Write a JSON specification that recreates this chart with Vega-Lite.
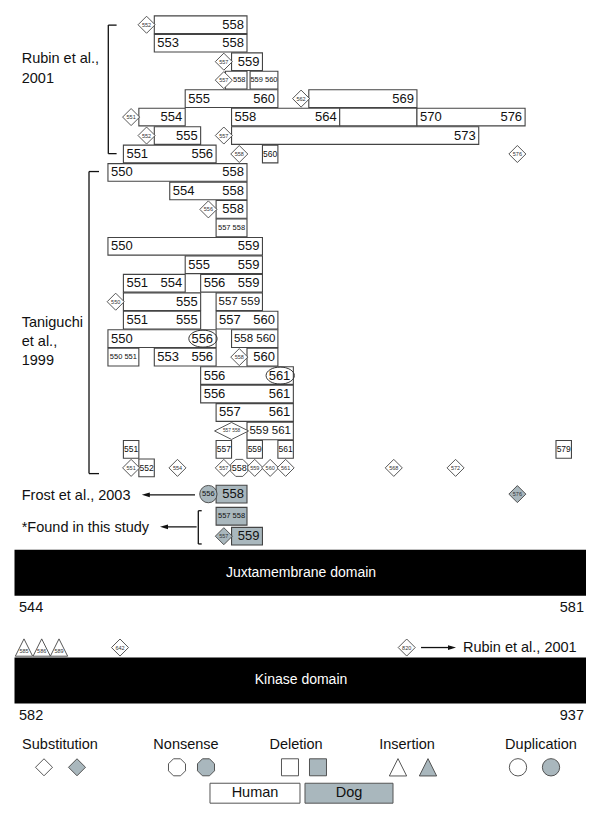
{
  "$schema": "https://vega.github.io/schema/vega-lite/v6.json",
  "width": 600,
  "height": 815,
  "padding": 0,
  "autosize": {"type": "none"},
  "background": "white",
  "config": {"view": {"stroke": null}, "font": "Liberation Sans", "text": {"font": "Liberation Sans", "color": "#111"}},
  "datasets": {
    "dom": [
      {"from": 543.452, "to": 580.442, "r1": 28.432, "r2": 30.919, "name": "Juxtamembrane domain", "mid": 561.995, "rm": 29.676},
      {"from": 543.452, "to": 580.442, "r1": 34.27, "r2": 36.757, "name": "Kinase domain", "mid": 561.995, "rm": 35.514}
    ],
    "legbox": [
      {"from": 556.105, "to": 561.93, "r1": 41.08, "r2": 42.16, "sp": "Human"},
      {"from": 562.254, "to": 567.95, "r1": 41.08, "r2": 42.16, "sp": "Dog"}
    ],
    "seg": [
      {"x1": 549.523, "x2": 549.523, "y1": 0.02, "y2": 6.98},
      {"x1": 549.523, "x2": 550.06, "y1": 0.02, "y2": 0.02},
      {"x1": 549.523, "x2": 550.06, "y1": 6.98, "y2": 6.98},
      {"x1": 548.274, "x2": 548.274, "y1": 7.95, "y2": 24.31},
      {"x1": 548.274, "x2": 548.921, "y1": 7.95, "y2": 7.95},
      {"x1": 548.274, "x2": 548.921, "y1": 24.31, "y2": 24.31},
      {"x1": 555.348, "x2": 555.348, "y1": 26.32, "y2": 28.12},
      {"x1": 555.348, "x2": 555.568, "y1": 26.32, "y2": 26.32},
      {"x1": 555.348, "x2": 555.568, "y1": 28.12, "y2": 28.12},
      {"x1": 551.95, "x2": 555.134, "y1": 25.46, "y2": 25.46},
      {"x1": 553.128, "x2": 555.24, "y1": 27.19, "y2": 27.19},
      {"x1": 569.765, "x2": 571.77, "y1": 33.73, "y2": 33.73}
    ],
    "heads": [
      {"x": 551.95, "row": 25.46, "dir": "left"},
      {"x": 553.128, "row": 27.19, "dir": "left"},
      {"x": 571.77, "row": 33.73, "dir": "right"}
    ],
    "boxes": [
      {"row": 0, "from": 552.5, "to": 558.5, "sp": "Human", "e": "558"},
      {"row": 1, "from": 552.5, "to": 558.5, "sp": "Human", "s": "553", "e": "558"},
      {"row": 2, "from": 557.5, "to": 559.5, "sp": "Human", "e": "559"},
      {"row": 3, "from": 557.1, "to": 558.5, "sp": "Human", "sm": "558", "c": 558},
      {"row": 3, "from": 558.7, "to": 560.5, "sp": "Human", "sm": "559 560", "c": 559.6},
      {"row": 4, "from": 554.5, "to": 560.5, "sp": "Human", "s": "555", "e": "560"},
      {"row": 4, "from": 562.5, "to": 569.5, "sp": "Human", "e": "569"},
      {"row": 5, "from": 551.5, "to": 554.5, "sp": "Human", "e": "554"},
      {"row": 5, "from": 557.5, "to": 564.5, "sp": "Human", "s": "558", "e": "564"},
      {"row": 5, "from": 564.5, "to": 569.5, "sp": "Human"},
      {"row": 5, "from": 569.5, "to": 576.5, "sp": "Human", "s": "570", "e": "576"},
      {"row": 6, "from": 552.5, "to": 555.5, "sp": "Human", "e": "555"},
      {"row": 6, "from": 557.5, "to": 573.5, "sp": "Human", "e": "573"},
      {"row": 7, "from": 550.5, "to": 556.5, "sp": "Human", "s": "551", "e": "556"},
      {"row": 7, "from": 559.5, "to": 560.5, "sp": "Human", "sm1": "560", "c": 560},
      {"row": 8, "from": 549.5, "to": 558.5, "sp": "Human", "s": "550", "e": "558"},
      {"row": 9, "from": 553.5, "to": 558.5, "sp": "Human", "s": "554", "e": "558"},
      {"row": 10, "from": 556.5, "to": 558.5, "sp": "Human", "e": "558"},
      {"row": 11, "from": 556.5, "to": 558.5, "sp": "Human", "sm": "557 558", "c": 557.5},
      {"row": 12, "from": 549.5, "to": 559.5, "sp": "Human", "s": "550", "e": "559"},
      {"row": 13, "from": 554.5, "to": 559.5, "sp": "Human", "s": "555", "e": "559"},
      {"row": 14, "from": 550.5, "to": 554.5, "sp": "Human", "s": "551", "e": "554"},
      {"row": 14, "from": 555.5, "to": 559.5, "sp": "Human", "s": "556", "e": "559"},
      {"row": 15, "from": 550.5, "to": 555.5, "sp": "Human", "e": "555"},
      {"row": 15, "from": 556.5, "to": 559.5, "sp": "Human", "m": "557 559", "c": 558},
      {"row": 16, "from": 550.5, "to": 555.5, "sp": "Human", "s": "551", "e": "555"},
      {"row": 16, "from": 556.5, "to": 560.5, "sp": "Human", "s": "557", "e": "560"},
      {"row": 17, "from": 549.5, "to": 556.5, "sp": "Human", "s": "550", "e": "556"},
      {"row": 17, "from": 557.5, "to": 560.5, "sp": "Human", "m": "558 560", "c": 559},
      {"row": 18, "from": 549.5, "to": 551.5, "sp": "Human", "sm": "550 551", "c": 550.5},
      {"row": 18, "from": 552.5, "to": 556.5, "sp": "Human", "s": "553", "e": "556"},
      {"row": 18, "from": 558.5, "to": 560.5, "sp": "Human", "e": "560"},
      {"row": 19, "from": 555.5, "to": 561.5, "sp": "Human", "s": "556", "e": "561"},
      {"row": 20, "from": 555.5, "to": 561.5, "sp": "Human", "s": "556", "e": "561"},
      {"row": 21, "from": 556.5, "to": 561.5, "sp": "Human", "s": "557", "e": "561"},
      {"row": 22, "from": 558.5, "to": 561.5, "sp": "Human", "m": "559 561", "c": 560},
      {"row": 23, "from": 550.5, "to": 551.5, "sp": "Human", "sm1": "551", "c": 551},
      {"row": 23, "from": 556.5, "to": 557.5, "sp": "Human", "sm1": "557", "c": 557},
      {"row": 23, "from": 558.5, "to": 559.5, "sp": "Human", "sm1": "559", "c": 559},
      {"row": 23, "from": 560.5, "to": 561.5, "sp": "Human", "sm1": "561", "c": 561},
      {"row": 23, "from": 578.5, "to": 579.5, "sp": "Human", "sm1": "579", "c": 579},
      {"row": 24, "from": 551.5, "to": 552.5, "sp": "Human", "sm1": "552", "c": 552},
      {"row": 25.42, "from": 556.5, "to": 558.5, "sp": "Dog", "e": "558"},
      {"row": 26.62, "from": 556.5, "to": 558.5, "sp": "Dog", "sm": "557 558", "c": 557.5},
      {"row": 27.7, "from": 557.5, "to": 559.5, "sp": "Dog", "e": "559"}
    ],
    "sym": [
      {"x": 552, "row": 0, "shape": "diamond", "sp": "Human", "lab": "552"},
      {"x": 557, "row": 2, "shape": "diamond", "sp": "Human", "lab": "557"},
      {"x": 557, "row": 3, "shape": "diamond", "sp": "Human", "lab": "557"},
      {"x": 562, "row": 4, "shape": "diamond", "sp": "Human", "lab": "562"},
      {"x": 551, "row": 5, "shape": "diamond", "sp": "Human", "lab": "551"},
      {"x": 552, "row": 6, "shape": "diamond", "sp": "Human", "lab": "552"},
      {"x": 557, "row": 6, "shape": "diamond", "sp": "Human", "lab": "557"},
      {"x": 558, "row": 7, "shape": "diamond", "sp": "Human", "lab": "558"},
      {"x": 576, "row": 7, "shape": "diamond", "sp": "Human", "lab": "576"},
      {"x": 556, "row": 10, "shape": "diamond", "sp": "Human", "lab": "556"},
      {"x": 550, "row": 15, "shape": "diamond", "sp": "Human", "lab": "550"},
      {"x": 558, "row": 18, "shape": "diamond", "sp": "Human", "lab": "558"},
      {"x": 551, "row": 24, "shape": "diamond", "sp": "Human", "lab": "551"},
      {"x": 554, "row": 24, "shape": "diamond", "sp": "Human", "lab": "554"},
      {"x": 557, "row": 24, "shape": "diamond", "sp": "Human", "lab": "557"},
      {"x": 559, "row": 24, "shape": "diamond", "sp": "Human", "lab": "559"},
      {"x": 560, "row": 24, "shape": "diamond", "sp": "Human", "lab": "560"},
      {"x": 561, "row": 24, "shape": "diamond", "sp": "Human", "lab": "561"},
      {"x": 568, "row": 24, "shape": "diamond", "sp": "Human", "lab": "568"},
      {"x": 572, "row": 24, "shape": "diamond", "sp": "Human", "lab": "572"},
      {"x": 576, "row": 25.42, "shape": "diamond", "sp": "Dog", "lab": "576"},
      {"x": 557, "row": 27.7, "shape": "diamond", "sp": "Dog", "lab": "557"},
      {"x": 550.28, "row": 33.73, "shape": "diamond", "sp": "Human", "lab": "642"},
      {"x": 568.837, "row": 33.73, "shape": "diamond", "sp": "Human", "lab": "820"},
      {"x": 545.361, "row": 40.216, "shape": "diamond", "sp": "Human", "lab": ""},
      {"x": 547.497, "row": 40.216, "shape": "diamond", "sp": "Dog", "lab": ""},
      {"x": 558, "row": 24, "shape": "octagon", "sp": "Human", "lab": "558"},
      {"x": 553.969, "row": 40.216, "shape": "octagon", "sp": "Human", "lab": ""},
      {"x": 555.846, "row": 40.216, "shape": "octagon", "sp": "Dog", "lab": ""},
      {"x": 557.5, "row": 22, "shape": "wdiamond", "sp": "Human", "lab": "557 558"},
      {"x": 555.65, "row": 17, "shape": "ellipse", "sp": "Human", "lab": ""},
      {"x": 560.65, "row": 19, "shape": "ellipse", "sp": "Human", "lab": ""},
      {"x": 556, "row": 25.42, "shape": "circle", "sp": "Dog", "lab": "556"},
      {"x": 576.04, "row": 40.216, "shape": "circle", "sp": "Human", "lab": ""},
      {"x": 578.177, "row": 40.216, "shape": "circle", "sp": "Dog", "lab": ""},
      {"x": 544.066, "row": 33.73, "shape": "triangle", "sp": "Human", "lab": "585"},
      {"x": 545.212, "row": 33.73, "shape": "triangle", "sp": "Human", "lab": "586"},
      {"x": 546.332, "row": 33.73, "shape": "triangle", "sp": "Human", "lab": "589"},
      {"x": 568.273, "row": 40.216, "shape": "triangle", "sp": "Human", "lab": ""},
      {"x": 570.215, "row": 40.216, "shape": "triangle", "sp": "Dog", "lab": ""},
      {"x": 561.283, "row": 40.216, "shape": "square", "sp": "Human", "lab": ""},
      {"x": 563.095, "row": 40.216, "shape": "square", "sp": "Dog", "lab": ""}
    ],
    "notes": [
      {"x": 543.917, "row": 1.84, "t": "Rubin et al.,", "al": "left"},
      {"x": 543.917, "row": 2.92, "t": "2001", "al": "left"},
      {"x": 543.917, "row": 16.16, "t": "Taniguchi", "al": "left"},
      {"x": 543.917, "row": 17.19, "t": "et al.,", "al": "left"},
      {"x": 543.917, "row": 18.2, "t": "1999", "al": "left"},
      {"x": 543.917, "row": 25.5, "t": "Frost et al., 2003", "al": "left"},
      {"x": 543.917, "row": 27.23, "t": "*Found in this study", "al": "left"},
      {"x": 543.743, "row": 31.57, "t": "544", "al": "left"},
      {"x": 572.48, "row": 33.73, "t": "Rubin et al., 2001", "al": "left"},
      {"x": 543.743, "row": 37.46, "t": "582", "al": "left"},
      {"x": 580.313, "row": 31.57, "t": "581", "al": "right"},
      {"x": 580.313, "row": 37.46, "t": "937", "al": "right"},
      {"x": 546.397, "row": 39.03, "t": "Substitution", "al": "center"},
      {"x": 554.552, "row": 39.03, "t": "Nonsense", "al": "center"},
      {"x": 561.672, "row": 39.03, "t": "Deletion", "al": "center"},
      {"x": 568.857, "row": 39.03, "t": "Insertion", "al": "center"},
      {"x": 577.529, "row": 39.03, "t": "Duplication", "al": "center"},
      {"x": 559.018, "row": 41.62, "t": "Human", "al": "center"},
      {"x": 565.1, "row": 41.62, "t": "Dog", "al": "center"}
    ]
  },
  "layer": [
    {
      "data": {"name": "dom"},
      "mark": {"type": "rect", "fill": "#000000"},
      "encoding": {
        "x": {"field": "from", "type": "quantitative", "scale": {"domain": [542.513, 581.348], "nice": false, "zero": false}, "axis": null},
        "x2": {"field": "to"},
        "y": {"field": "r1", "type": "quantitative", "scale": {"domain": [-1.0699, 42.529], "reverse": true, "nice": false, "zero": false}, "axis": null},
        "y2": {"field": "r2"}
      }
    },
    {
      "data": {"name": "dom"},
      "mark": {"type": "text", "color": "#ffffff", "fontSize": 14, "align": "center", "baseline": "middle"},
      "encoding": {
        "x": {"field": "mid", "type": "quantitative", "scale": {"domain": [542.513, 581.348], "nice": false, "zero": false}, "axis": null},
        "y": {"field": "rm", "type": "quantitative", "scale": {"domain": [-1.0699, 42.529], "reverse": true, "nice": false, "zero": false}, "axis": null},
        "text": {"field": "name"}
      }
    },
    {
      "data": {"name": "legbox"},
      "mark": {"type": "rect", "stroke": "#555555", "strokeWidth": 1},
      "encoding": {
        "x": {"field": "from", "type": "quantitative", "scale": {"domain": [542.513, 581.348], "nice": false, "zero": false}, "axis": null},
        "x2": {"field": "to"},
        "y": {"field": "r1", "type": "quantitative", "scale": {"domain": [-1.0699, 42.529], "reverse": true, "nice": false, "zero": false}, "axis": null},
        "y2": {"field": "r2"},
        "fill": {"field": "sp", "type": "nominal", "scale": {"domain": ["Human", "Dog"], "range": ["#ffffff", "#a9b7bd"]}, "legend": null}
      }
    },
    {
      "data": {"name": "seg"},
      "mark": {"type": "rule", "color": "#111111", "strokeWidth": 1.3},
      "encoding": {
        "x": {"field": "x1", "type": "quantitative", "scale": {"domain": [542.513, 581.348], "nice": false, "zero": false}, "axis": null},
        "x2": {"field": "x2"},
        "y": {"field": "y1", "type": "quantitative", "scale": {"domain": [-1.0699, 42.529], "reverse": true, "nice": false, "zero": false}, "axis": null},
        "y2": {"field": "y2"}
      }
    },
    {
      "data": {"name": "heads"},
      "transform": [{"filter": "datum.dir == 'left'"}],
      "mark": {"type": "point", "shape": "M-1,0L1,-0.6L1,0.6Z", "size": 64, "filled": true, "color": "#111111", "opacity": 1},
      "encoding": {
        "x": {"field": "x", "type": "quantitative", "scale": {"domain": [542.513, 581.348], "nice": false, "zero": false}, "axis": null},
        "y": {"field": "row", "type": "quantitative", "scale": {"domain": [-1.0699, 42.529], "reverse": true, "nice": false, "zero": false}, "axis": null}
      }
    },
    {
      "data": {"name": "heads"},
      "transform": [{"filter": "datum.dir == 'right'"}],
      "mark": {"type": "point", "shape": "M1,0L-1,-0.6L-1,0.6Z", "size": 64, "filled": true, "color": "#111111", "opacity": 1},
      "encoding": {
        "x": {"field": "x", "type": "quantitative", "scale": {"domain": [542.513, 581.348], "nice": false, "zero": false}, "axis": null},
        "y": {"field": "row", "type": "quantitative", "scale": {"domain": [-1.0699, 42.529], "reverse": true, "nice": false, "zero": false}, "axis": null}
      }
    },
    {
      "data": {"name": "boxes"},
      "mark": {"type": "bar", "orient": "horizontal", "size": 17.7, "stroke": "#444444", "strokeWidth": 1.1},
      "encoding": {
        "x": {"field": "from", "type": "quantitative", "scale": {"domain": [542.513, 581.348], "nice": false, "zero": false}, "axis": null},
        "x2": {"field": "to"},
        "y": {"field": "row", "type": "quantitative", "scale": {"domain": [-1.0699, 42.529], "reverse": true, "nice": false, "zero": false}, "axis": null},
        "fill": {"field": "sp", "type": "nominal", "scale": {"domain": ["Human", "Dog"], "range": ["#ffffff", "#a9b7bd"]}, "legend": null}
      }
    },
    {
      "data": {"name": "boxes"},
      "transform": [{"filter": "isValid(datum.s)"}],
      "mark": {"type": "text", "fontSize": 13, "align": "left", "baseline": "middle", "dx": 3},
      "encoding": {
        "x": {"field": "from", "type": "quantitative", "scale": {"domain": [542.513, 581.348], "nice": false, "zero": false}, "axis": null},
        "y": {"field": "row", "type": "quantitative", "scale": {"domain": [-1.0699, 42.529], "reverse": true, "nice": false, "zero": false}, "axis": null},
        "text": {"field": "s"}
      }
    },
    {
      "data": {"name": "boxes"},
      "transform": [{"filter": "isValid(datum.e)"}],
      "mark": {"type": "text", "fontSize": 13, "align": "right", "baseline": "middle", "dx": -3},
      "encoding": {
        "x": {"field": "to", "type": "quantitative", "scale": {"domain": [542.513, 581.348], "nice": false, "zero": false}, "axis": null},
        "y": {"field": "row", "type": "quantitative", "scale": {"domain": [-1.0699, 42.529], "reverse": true, "nice": false, "zero": false}, "axis": null},
        "text": {"field": "e"}
      }
    },
    {
      "data": {"name": "boxes"},
      "transform": [{"filter": "isValid(datum.m)"}],
      "mark": {"type": "text", "fontSize": 11.5, "align": "center", "baseline": "middle"},
      "encoding": {
        "x": {"field": "c", "type": "quantitative", "scale": {"domain": [542.513, 581.348], "nice": false, "zero": false}, "axis": null},
        "y": {"field": "row", "type": "quantitative", "scale": {"domain": [-1.0699, 42.529], "reverse": true, "nice": false, "zero": false}, "axis": null},
        "text": {"field": "m"}
      }
    },
    {
      "data": {"name": "boxes"},
      "transform": [{"filter": "isValid(datum.sm)"}],
      "mark": {"type": "text", "fontSize": 7.5, "align": "center", "baseline": "middle"},
      "encoding": {
        "x": {"field": "c", "type": "quantitative", "scale": {"domain": [542.513, 581.348], "nice": false, "zero": false}, "axis": null},
        "y": {"field": "row", "type": "quantitative", "scale": {"domain": [-1.0699, 42.529], "reverse": true, "nice": false, "zero": false}, "axis": null},
        "text": {"field": "sm"}
      }
    },
    {
      "data": {"name": "boxes"},
      "transform": [{"filter": "isValid(datum.sm1)"}],
      "mark": {"type": "text", "fontSize": 8.5, "align": "center", "baseline": "middle"},
      "encoding": {
        "x": {"field": "c", "type": "quantitative", "scale": {"domain": [542.513, 581.348], "nice": false, "zero": false}, "axis": null},
        "y": {"field": "row", "type": "quantitative", "scale": {"domain": [-1.0699, 42.529], "reverse": true, "nice": false, "zero": false}, "axis": null},
        "text": {"field": "sm1"}
      }
    },
    {
      "data": {"name": "sym"},
      "transform": [{"filter": "datum.shape == 'diamond'"}],
      "mark": {"type": "point", "shape": "diamond", "size": 290, "filled": true, "stroke": "#444444", "strokeWidth": 0.9, "opacity": 1},
      "encoding": {
        "x": {"field": "x", "type": "quantitative", "scale": {"domain": [542.513, 581.348], "nice": false, "zero": false}, "axis": null},
        "y": {"field": "row", "type": "quantitative", "scale": {"domain": [-1.0699, 42.529], "reverse": true, "nice": false, "zero": false}, "axis": null},
        "fill": {"field": "sp", "type": "nominal", "scale": {"domain": ["Human", "Dog"], "range": ["#ffffff", "#a9b7bd"]}, "legend": null}
      }
    },
    {
      "data": {"name": "sym"},
      "transform": [{"filter": "datum.shape == 'octagon'"}],
      "mark": {"type": "point", "shape": "M-0.383,-0.924L0.383,-0.924L0.924,-0.383L0.924,0.383L0.383,0.924L-0.383,0.924L-0.924,0.383L-0.924,-0.383Z", "size": 339, "filled": true, "stroke": "#444444", "strokeWidth": 0.9, "opacity": 1},
      "encoding": {
        "x": {"field": "x", "type": "quantitative", "scale": {"domain": [542.513, 581.348], "nice": false, "zero": false}, "axis": null},
        "y": {"field": "row", "type": "quantitative", "scale": {"domain": [-1.0699, 42.529], "reverse": true, "nice": false, "zero": false}, "axis": null},
        "fill": {"field": "sp", "type": "nominal", "scale": {"domain": ["Human", "Dog"], "range": ["#ffffff", "#a9b7bd"]}, "legend": null}
      }
    },
    {
      "data": {"name": "sym"},
      "transform": [{"filter": "datum.shape == 'wdiamond'"}],
      "mark": {"type": "point", "shape": "M-1,0L0,-0.5L1,0L0,0.5Z", "size": 1156, "filled": true, "stroke": "#444444", "strokeWidth": 0.9, "opacity": 1},
      "encoding": {
        "x": {"field": "x", "type": "quantitative", "scale": {"domain": [542.513, 581.348], "nice": false, "zero": false}, "axis": null},
        "y": {"field": "row", "type": "quantitative", "scale": {"domain": [-1.0699, 42.529], "reverse": true, "nice": false, "zero": false}, "axis": null},
        "fill": {"field": "sp", "type": "nominal", "scale": {"domain": ["Human", "Dog"], "range": ["#ffffff", "#a9b7bd"]}, "legend": null}
      }
    },
    {
      "data": {"name": "sym"},
      "transform": [{"filter": "datum.shape == 'ellipse'"}],
      "mark": {"type": "point", "shape": "M-1,0A1,0.6 0 1,1 1,0A1,0.6 0 1,1 -1,0Z", "size": 800, "filled": false, "stroke": "#333333", "strokeWidth": 1, "opacity": 1},
      "encoding": {
        "x": {"field": "x", "type": "quantitative", "scale": {"domain": [542.513, 581.348], "nice": false, "zero": false}, "axis": null},
        "y": {"field": "row", "type": "quantitative", "scale": {"domain": [-1.0699, 42.529], "reverse": true, "nice": false, "zero": false}, "axis": null}
      }
    },
    {
      "data": {"name": "sym"},
      "transform": [{"filter": "datum.shape == 'circle'"}],
      "mark": {"type": "point", "shape": "circle", "size": 300, "filled": true, "stroke": "#444444", "strokeWidth": 0.9, "opacity": 1},
      "encoding": {
        "x": {"field": "x", "type": "quantitative", "scale": {"domain": [542.513, 581.348], "nice": false, "zero": false}, "axis": null},
        "y": {"field": "row", "type": "quantitative", "scale": {"domain": [-1.0699, 42.529], "reverse": true, "nice": false, "zero": false}, "axis": null},
        "fill": {"field": "sp", "type": "nominal", "scale": {"domain": ["Human", "Dog"], "range": ["#ffffff", "#a9b7bd"]}, "legend": null}
      }
    },
    {
      "data": {"name": "sym"},
      "transform": [{"filter": "datum.shape == 'triangle'"}],
      "mark": {"type": "point", "shape": "M0,-1L1,1L-1,1Z", "size": 300, "filled": true, "stroke": "#444444", "strokeWidth": 0.9, "opacity": 1},
      "encoding": {
        "x": {"field": "x", "type": "quantitative", "scale": {"domain": [542.513, 581.348], "nice": false, "zero": false}, "axis": null},
        "y": {"field": "row", "type": "quantitative", "scale": {"domain": [-1.0699, 42.529], "reverse": true, "nice": false, "zero": false}, "axis": null},
        "fill": {"field": "sp", "type": "nominal", "scale": {"domain": ["Human", "Dog"], "range": ["#ffffff", "#a9b7bd"]}, "legend": null}
      }
    },
    {
      "data": {"name": "sym"},
      "transform": [{"filter": "datum.shape == 'square'"}],
      "mark": {"type": "point", "shape": "square", "size": 289, "filled": true, "stroke": "#444444", "strokeWidth": 0.9, "opacity": 1},
      "encoding": {
        "x": {"field": "x", "type": "quantitative", "scale": {"domain": [542.513, 581.348], "nice": false, "zero": false}, "axis": null},
        "y": {"field": "row", "type": "quantitative", "scale": {"domain": [-1.0699, 42.529], "reverse": true, "nice": false, "zero": false}, "axis": null},
        "fill": {"field": "sp", "type": "nominal", "scale": {"domain": ["Human", "Dog"], "range": ["#ffffff", "#a9b7bd"]}, "legend": null}
      }
    },
    {
      "data": {"name": "sym"},
      "transform": [{"filter": "datum.shape == 'diamond' && datum.lab != ''"}],
      "mark": {"type": "text", "fontSize": 5.5, "align": "center", "baseline": "middle", "color": "#333333"},
      "encoding": {
        "x": {"field": "x", "type": "quantitative", "scale": {"domain": [542.513, 581.348], "nice": false, "zero": false}, "axis": null},
        "y": {"field": "row", "type": "quantitative", "scale": {"domain": [-1.0699, 42.529], "reverse": true, "nice": false, "zero": false}, "axis": null},
        "text": {"field": "lab"}
      }
    },
    {
      "data": {"name": "sym"},
      "transform": [{"filter": "datum.shape == 'wdiamond'"}],
      "mark": {"type": "text", "fontSize": 4.8, "align": "center", "baseline": "middle", "color": "#333333"},
      "encoding": {
        "x": {"field": "x", "type": "quantitative", "scale": {"domain": [542.513, 581.348], "nice": false, "zero": false}, "axis": null},
        "y": {"field": "row", "type": "quantitative", "scale": {"domain": [-1.0699, 42.529], "reverse": true, "nice": false, "zero": false}, "axis": null},
        "text": {"field": "lab"}
      }
    },
    {
      "data": {"name": "sym"},
      "transform": [{"filter": "datum.shape == 'octagon' && datum.lab != ''"}],
      "mark": {"type": "text", "fontSize": 9, "align": "center", "baseline": "middle"},
      "encoding": {
        "x": {"field": "x", "type": "quantitative", "scale": {"domain": [542.513, 581.348], "nice": false, "zero": false}, "axis": null},
        "y": {"field": "row", "type": "quantitative", "scale": {"domain": [-1.0699, 42.529], "reverse": true, "nice": false, "zero": false}, "axis": null},
        "text": {"field": "lab"}
      }
    },
    {
      "data": {"name": "sym"},
      "transform": [{"filter": "datum.shape == 'circle' && datum.lab != ''"}],
      "mark": {"type": "text", "fontSize": 7.5, "align": "center", "baseline": "middle"},
      "encoding": {
        "x": {"field": "x", "type": "quantitative", "scale": {"domain": [542.513, 581.348], "nice": false, "zero": false}, "axis": null},
        "y": {"field": "row", "type": "quantitative", "scale": {"domain": [-1.0699, 42.529], "reverse": true, "nice": false, "zero": false}, "axis": null},
        "text": {"field": "lab"}
      }
    },
    {
      "data": {"name": "sym"},
      "transform": [{"filter": "datum.shape == 'triangle' && datum.lab != ''"}],
      "mark": {"type": "text", "fontSize": 5.5, "align": "center", "baseline": "middle", "dy": 3.5, "color": "#333333"},
      "encoding": {
        "x": {"field": "x", "type": "quantitative", "scale": {"domain": [542.513, 581.348], "nice": false, "zero": false}, "axis": null},
        "y": {"field": "row", "type": "quantitative", "scale": {"domain": [-1.0699, 42.529], "reverse": true, "nice": false, "zero": false}, "axis": null},
        "text": {"field": "lab"}
      }
    },
    {
      "data": {"name": "notes"},
      "transform": [{"filter": "datum.al == 'left'"}],
      "mark": {"type": "text", "fontSize": 14.5, "align": "left", "baseline": "middle"},
      "encoding": {
        "x": {"field": "x", "type": "quantitative", "scale": {"domain": [542.513, 581.348], "nice": false, "zero": false}, "axis": null},
        "y": {"field": "row", "type": "quantitative", "scale": {"domain": [-1.0699, 42.529], "reverse": true, "nice": false, "zero": false}, "axis": null},
        "text": {"field": "t"}
      }
    },
    {
      "data": {"name": "notes"},
      "transform": [{"filter": "datum.al == 'right'"}],
      "mark": {"type": "text", "fontSize": 14.5, "align": "right", "baseline": "middle"},
      "encoding": {
        "x": {"field": "x", "type": "quantitative", "scale": {"domain": [542.513, 581.348], "nice": false, "zero": false}, "axis": null},
        "y": {"field": "row", "type": "quantitative", "scale": {"domain": [-1.0699, 42.529], "reverse": true, "nice": false, "zero": false}, "axis": null},
        "text": {"field": "t"}
      }
    },
    {
      "data": {"name": "notes"},
      "transform": [{"filter": "datum.al == 'center'"}],
      "mark": {"type": "text", "fontSize": 14.5, "align": "center", "baseline": "middle"},
      "encoding": {
        "x": {"field": "x", "type": "quantitative", "scale": {"domain": [542.513, 581.348], "nice": false, "zero": false}, "axis": null},
        "y": {"field": "row", "type": "quantitative", "scale": {"domain": [-1.0699, 42.529], "reverse": true, "nice": false, "zero": false}, "axis": null},
        "text": {"field": "t"}
      }
    }
  ]
}
